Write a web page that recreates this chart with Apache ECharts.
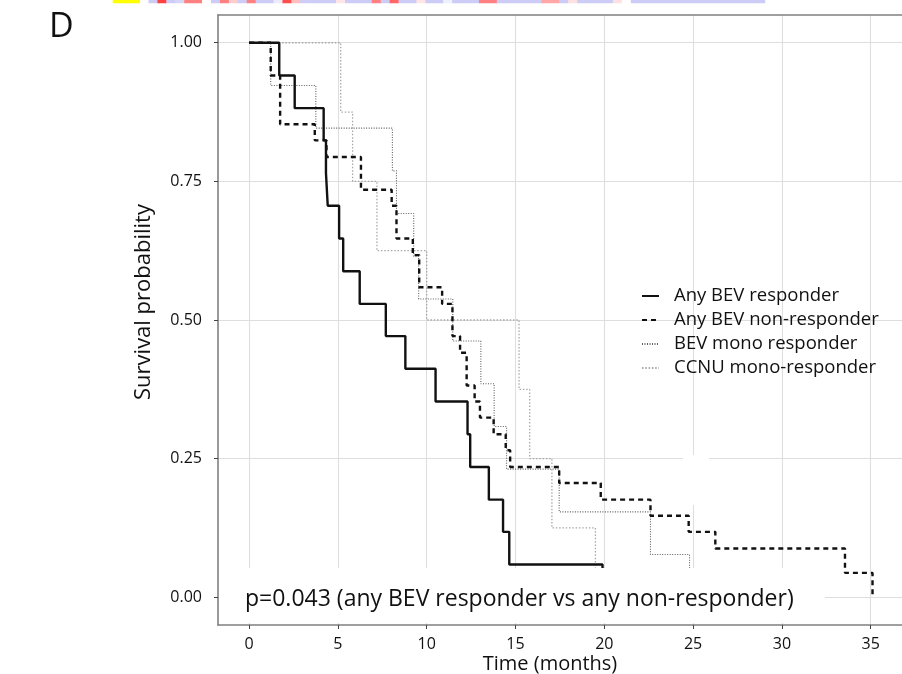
<!DOCTYPE html>
<html>
<head>
<meta charset="utf-8">
<script src="https://cdn.jsdelivr.net/npm/echarts@6/dist/echarts.min.js"></script>
<style>
html,body{margin:0;padding:0;background:#fff;}
#chart{width:902px;height:674px;}
</style>
</head>
<body>
<div id="chart"></div>
<script>
// ---- Kaplan-Meier step data (time in months, survival probability) ----
const respT = [0, 1.7, 2.57, 4.2, 4.33, 4.43, 5.07, 5.3, 6.23, 7.7, 8.8, 10.5, 12.3, 12.45, 13.5, 14.3, 14.65, 19.9];
const respS = [1, 0.941, 0.882, 0.824, 0.765, 0.706, 0.647, 0.588, 0.529, 0.471, 0.412, 0.353, 0.294, 0.235, 0.176, 0.118, 0.059, 0];

const nonT = [0, 1.22, 1.75, 3.7, 4.36, 6.3, 8.03, 8.3, 9.22, 9.58, 10.87, 11.45, 11.88, 12.25, 12.7, 13.0, 13.77, 14.45, 14.7, 17.46, 19.8, 22.6, 24.75, 26.25, 33.55, 35.1];
const nonS = [1, 0.941, 0.853, 0.824, 0.794, 0.735, 0.706, 0.647, 0.617, 0.559, 0.529, 0.471, 0.441, 0.382, 0.353, 0.324, 0.294, 0.265, 0.235, 0.206, 0.176, 0.147, 0.118, 0.088, 0.044, 0];

const monoT = [0, 1.22, 3.76, 8.07, 8.3, 9.27, 9.55, 11.47, 13.05, 13.8, 14.5, 17.46, 22.6, 24.8];
const monoS = [1, 0.923, 0.846, 0.769, 0.692, 0.615, 0.538, 0.462, 0.385, 0.308, 0.231, 0.154, 0.077, 0];

const ccnuT = [0, 5.16, 5.83, 7.2, 10.0, 15.2, 15.8, 17.05, 19.5];
const ccnuS = [1, 0.875, 0.75, 0.625, 0.5, 0.375, 0.25, 0.125, 0];

const seriesNames = ['Any BEV responder', 'Any BEV non-responder', 'BEV mono responder', 'CCNU mono-responder'];
const xTicks = [0, 5, 10, 15, 20, 25, 30, 35];
const yTicks = [0, 0.25, 0.5, 0.75, 1.0];
const pText = 'p=0.043 (any BEV responder vs any non-responder)';

// ---- top heatmap strip fragment (cell values, -1 blue .. 1 red) ----
const stripYellow = [0, 1, 2];
const stripVals = [null, null, null, null, -1, 0.75, -1, -0.8, 0.5, 0.5, 0, -1, 0.5, 0.2, -1, 0.5, -1, -1, -0.4, 0.7,
  0.25, -1, -1, -1, -1, 0.1, -1, -1, -1, 0.5, -1, 0.6, -1, -1, 0.1, -1, -1, -0.3, -1, -1,
  -1, 0.5, 0.5, -1, -1, -1, -1, -1, 0.35, 0.35, -1, 0.12, -1, -1, -1, -1, 0.12, 0, -1, -1,
  -1, -1, -1, -1, -1, -1, -1, -1, -1, -1, -1, -1, -1];

function pts(T, S) { return T.map((t, i) => [t, S[i]]); }

const chart = echarts.init(document.getElementById('chart'), null, {renderer: 'canvas'});
const FONT = "'Open Sans', 'Noto Sans', sans-serif";
const FRAME = {show: true, onZero: false, lineStyle: {color: '#808080', width: 1.6}};
const XMIN = -1.748, XMAX = 36.76;

const stripCats = stripVals.map((v, i) => String(i));

const option = {
  animation: false,
  backgroundColor: '#fff',
  grid: [
    {left: 218, right: 0, top: 15, bottom: 49, show: false, containLabel: false, outerBoundsMode: 'none'},
    {left: 113, width: 652, top: 0, height: 3, containLabel: false, outerBoundsMode: 'none'}
  ],
  xAxis: [
    {
      type: 'value', gridIndex: 0, min: XMIN, max: XMAX, position: 'bottom',
      axisLine: FRAME,
      axisTick: {show: true, length: 4, lineStyle: {color: '#444'}, customValues: xTicks},
      axisLabel: {customValues: xTicks, margin: 11, fontSize: 16, color: '#111', fontFamily: FONT},
      splitLine: {show: true, lineStyle: {color: '#dedede', width: 1.1}},
      name: 'Time (months)', nameLocation: 'middle', nameGap: 29, nameMoveOverlap: false,
      nameTextStyle: {fontSize: 20, color: '#111', fontFamily: FONT, padding: [0, 20, 0, 0]}
    },
    {type: 'category', gridIndex: 1, data: stripCats, show: false},
    {
      type: 'value', gridIndex: 0, min: XMIN, max: XMAX, position: 'top',
      axisLine: FRAME, axisTick: {show: false}, axisLabel: {show: false}, splitLine: {show: false}
    }
  ],
  yAxis: [
    {
      type: 'value', gridIndex: 0, min: -0.05, max: 1.05,
      axisLine: FRAME,
      axisTick: {show: true, length: 4, lineStyle: {color: '#444'}, customValues: yTicks},
      axisLabel: {customValues: yTicks, margin: 16, fontSize: 16, color: '#111', fontFamily: FONT,
        formatter: v => v.toFixed(2)},
      splitLine: {show: true, lineStyle: {color: '#dedede', width: 1.1}},
      name: 'Survival probability', nameLocation: 'middle', nameGap: 63, nameRotate: 90,
      nameTextStyle: {fontSize: 22, color: '#111', fontFamily: FONT, padding: [0, 0, 0, 36]}
    },
    {type: 'category', gridIndex: 1, data: ['a'], show: false}
  ],
  visualMap: {
    show: false, type: 'continuous', seriesIndex: 5, min: -1, max: 1, dimension: 2,
    inRange: {color: ['#ccccf6', '#ffffff', '#ff0000']}
  },
  legend: {
    orient: 'vertical', left: 636, top: 281, itemWidth: 17, itemHeight: 14, itemGap: 4,
    data: seriesNames,
    itemStyle: {opacity: 0},
    textStyle: {fontSize: 18.5, lineHeight: 20, color: '#111', fontFamily: FONT, padding: [0, 0, 0, 10]}
  },
  series: [
    {name: seriesNames[2], type: 'line', step: 'end', symbol: 'none', z: 2, data: pts(monoT, monoS),
      lineStyle: {color: '#5e5e5e', width: 1.1, type: [1, 1.5]}, itemStyle: {color: '#5e5e5e'}},
    {name: seriesNames[3], type: 'line', step: 'end', symbol: 'none', z: 2, data: pts(ccnuT, ccnuS),
      lineStyle: {color: '#a8a8a8', width: 1.3, type: [1.5, 1.8]}, itemStyle: {color: '#a8a8a8'}},
    {name: seriesNames[1], type: 'line', step: 'end', symbol: 'none', z: 3, data: pts(nonT, nonS),
      lineStyle: {color: '#111', width: 2.4, type: [5, 4]}, itemStyle: {color: '#111'}},
    {name: seriesNames[0], type: 'line', step: 'end', symbol: 'none', z: 4, data: pts(respT, respS),
      lineStyle: {color: '#111', width: 2.4, type: 'solid'}, itemStyle: {color: '#111'}},
    {type: 'heatmap', xAxisIndex: 1, yAxisIndex: 1, silent: true,
      data: stripYellow.map(i => [i, 0, 1]), itemStyle: {color: '#ffff00'}, emphasis: {disabled: true}},
    {type: 'heatmap', xAxisIndex: 1, yAxisIndex: 1, silent: true,
      data: stripVals.map((v, i) => v === null ? null : [i, 0, v]).filter(d => d), emphasis: {disabled: true}}
  ],
  graphic: [
    {type: 'rect', z: 10, shape: {x: 219, y: 568, width: 606, height: 55}, style: {fill: '#fff'}},
    {type: 'rect', z: 10, shape: {x: 683, y: 455, width: 26, height: 50}, style: {fill: '#fff'}},
    {type: 'text', z: 11, left: 245, top: 588,
      style: {text: pText, fontSize: 23, fill: '#111', fontFamily: FONT}},
    {type: 'text', z: 11, left: 49, top: 10,
      style: {text: 'D', fontSize: 34, fill: '#111', fontFamily: FONT}}
  ]
};
chart.setOption(option);
</script>
</body>
</html>
